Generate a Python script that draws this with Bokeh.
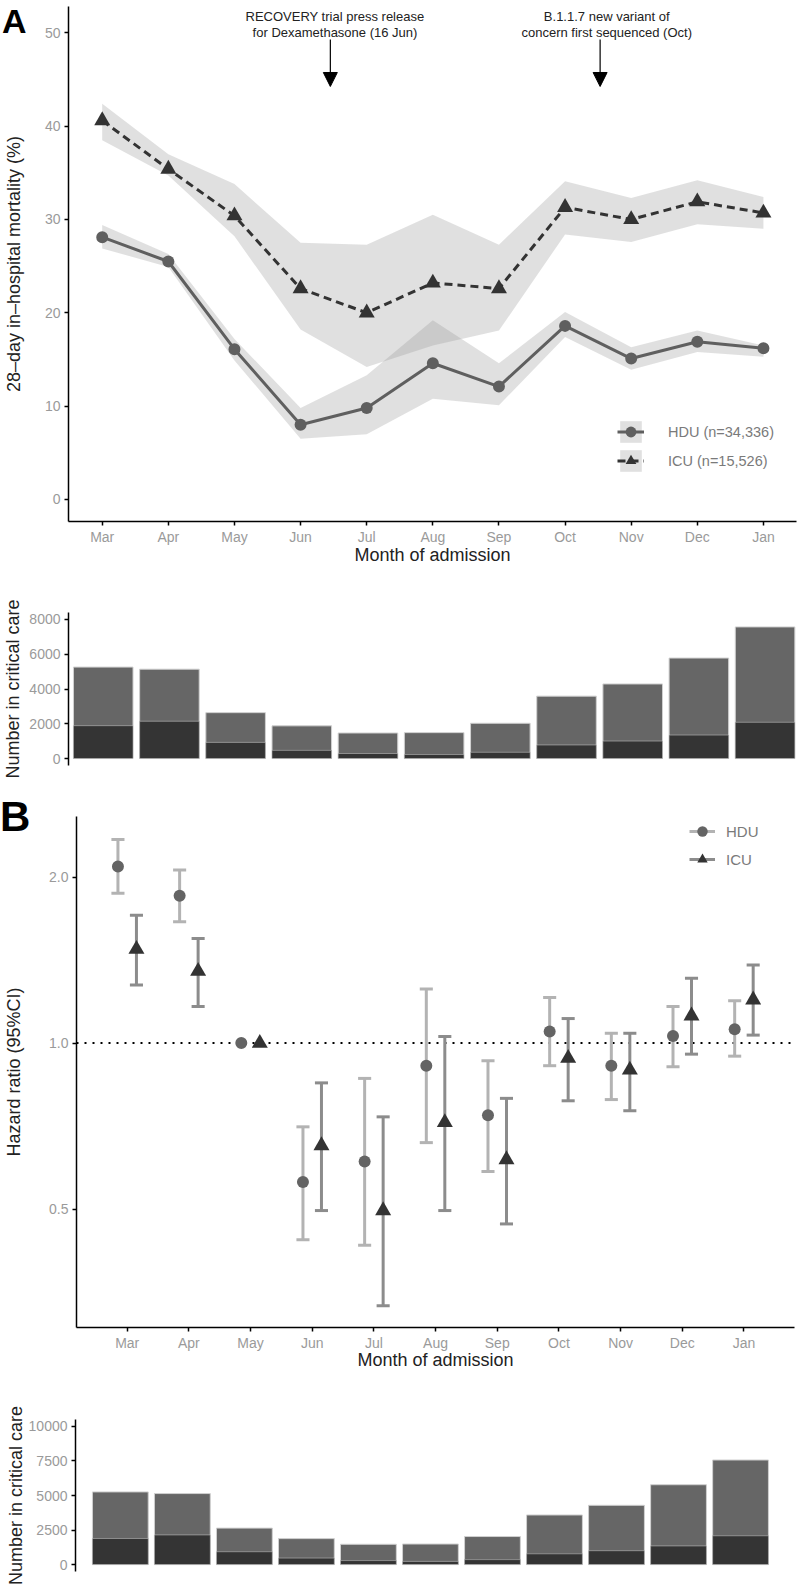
import numpy as np
from bokeh.plotting import figure
from bokeh.models import (ColumnDataSource, Range1d, FixedTicker, Legend, LegendItem,
                          Label, Arrow, NormalHead, Span, PrintfTickFormatter, Div)
from bokeh.layouts import column, row
from bokeh.embed import file_html
from bokeh.resources import INLINE

# ---------------- data ----------------
months = ["Mar", "Apr", "May", "Jun", "Jul", "Aug", "Sep", "Oct", "Nov", "Dec", "Jan"]

# Panel A: 28-day in-hospital mortality (%)
hdu_mort = [28.1, 25.5, 16.1, 8.0, 9.8, 14.6, 12.1, 18.6, 15.1, 16.9, 16.2]
hdu_mort_lo = [26.9, 24.9, 14.9, 6.5, 7.0, 10.8, 10.1, 17.4, 13.9, 15.8, 15.3]
hdu_mort_hi = [29.4, 26.3, 17.2, 9.8, 13.3, 19.2, 14.6, 20.1, 16.3, 18.1, 16.5]
icu_mort = [40.6, 35.4, 30.4, 22.6, 20.0, 23.2, 22.6, 31.3, 30.0, 31.9, 30.7]
icu_mort_lo = [38.5, 34.7, 28.2, 18.2, 14.2, 16.5, 18.1, 28.4, 27.6, 29.5, 29.0]
icu_mort_hi = [42.4, 37.0, 33.8, 27.5, 27.3, 30.5, 27.3, 34.1, 32.3, 34.2, 32.4]

# Number in critical care
total_cc = [5260, 5140, 2640, 1880, 1470, 1490, 2030, 3590, 4290, 5780, 7570]
icu_cc = [1890, 2145, 930, 470, 290, 230, 360, 780, 1005, 1350, 2085]

# Panel B: hazard ratios (May = reference)
hdu_hr = [2.09, 1.85, 1.0, 0.56, 0.61, 0.91, 0.74, 1.05, 0.91, 1.03, 1.06]
hdu_hr_lo = [1.87, 1.66, None, 0.44, 0.43, 0.66, 0.585, 0.91, 0.79, 0.906, 0.947]
hdu_hr_hi = [2.34, 2.06, None, 0.705, 0.863, 1.253, 0.929, 1.21, 1.042, 1.165, 1.193]
icu_hr = [1.48, 1.35, 1.0, 0.652, 0.497, 0.718, 0.615, 0.939, 0.894, 1.121, 1.198]
icu_hr_lo = [1.274, 1.165, None, 0.497, 0.334, 0.497, 0.470, 0.786, 0.754, 0.955, 1.034]
icu_hr_hi = [1.705, 1.547, None, 0.847, 0.735, 1.028, 0.794, 1.108, 1.042, 1.311, 1.386]

mort_ticks = [0, 10, 20, 30, 40, 50]
hr_ticks = [0.5, 1.0, 2.0]
bar1_ticks = [0, 2000, 4000, 6000, 8000]
bar2_ticks = [0, 2500, 5000, 7500, 10000]

FONT = "Liberation Sans"
TICK_COL = "#9a9a9a"
TITLE_COL = "#222222"

x = np.arange(1, len(months) + 1)
month_labels = {int(i): m for i, m in zip(x, months)}


def style(p):
    p.outline_line_color = None
    p.grid.visible = False
    p.background_fill_color = "white"
    p.border_fill_color = "white"
    for ax in p.axis:
        ax.axis_line_color = "black"
        ax.axis_line_width = 1.5
        ax.major_tick_line_color = "black"
        ax.major_tick_line_width = 1.5
        ax.major_tick_out = 4
        ax.major_tick_in = 0
        ax.minor_tick_line_color = None
        ax.major_label_text_font = FONT
        ax.major_label_text_font_size = "14px"
        ax.major_label_text_color = TICK_COL
        ax.major_label_standoff = 4
        ax.axis_label_text_font = FONT
        ax.axis_label_text_font_size = "18px"
        ax.axis_label_text_font_style = "normal"
        ax.axis_label_text_color = TITLE_COL


def panel_letter(txt, left, top, size):
    return Div(text=txt, width=40, height=44,
               styles={"position": "absolute", "left": "%dpx" % left, "top": "%dpx" % top,
                       "z-index": "10", "font-family": FONT, "font-size": size,
                       "font-weight": "bold", "line-height": "1", "color": "black",
                       "margin": "0", "padding": "0"})


# ---------------- Panel A ----------------
pA = figure(width=800, height=580, x_range=Range1d(0.49, 11.5), y_range=Range1d(-2.36, 52.82),
            output_backend="svg", toolbar_location=None,
            min_border_left=68, min_border_right=4, min_border_top=6, min_border_bottom=59,
            x_axis_label="Month of admission", y_axis_label="28–day in–hospital mortality (%)")
style(pA)
pA.xaxis.ticker = FixedTicker(ticks=list(x))
pA.xaxis.major_label_overrides = month_labels
pA.xaxis.major_label_standoff = 3
pA.xaxis.axis_label_standoff = -3
pA.yaxis.ticker = FixedTicker(ticks=mort_ticks)
pA.yaxis.axis_label_standoff = 18

srcA = ColumnDataSource(dict(x=x, hdu=hdu_mort, hlo=hdu_mort_lo, hhi=hdu_mort_hi,
                             icu=icu_mort, ilo=icu_mort_lo, ihi=icu_mort_hi))
rib_h = pA.varea(x="x", y1="hlo", y2="hhi", source=srcA, fill_color="#999999", fill_alpha=0.3)
rib_i = pA.varea(x="x", y1="ilo", y2="ihi", source=srcA, fill_color="#999999", fill_alpha=0.3)
ln_h = pA.line("x", "hdu", source=srcA, line_color="#5f5f5f", line_width=3)
ln_i = pA.line("x", "icu", source=srcA, line_color="#333333", line_width=3, line_dash="8 5")
pt_h = pA.scatter("x", "hdu", source=srcA, marker="circle", size=12,
                  fill_color="#5f5f5f", line_color=None)
pt_i = pA.scatter("x", "icu", source=srcA, marker="triangle", size=16,
                  fill_color="#333333", line_color=None)

legA = Legend(items=[LegendItem(label="HDU (n=34,336)", renderers=[rib_h, ln_h, pt_h]),
                     LegendItem(label="ICU (n=15,526)", renderers=[rib_i, ln_i, pt_i])],
              location=(549, 47), glyph_width=27, glyph_height=27, spacing=2, padding=0,
              margin=0, label_standoff=24, border_line_color=None, background_fill_alpha=0,
              label_text_font=FONT, label_text_font_size="14.5px", label_text_color="#7a7a7a")
pA.add_layout(legA)

# event annotations
for xa, xt, l1, l2 in [(4.45, 4.52, "RECOVERY trial press release", "for Dexamethasone (16 Jun)"),
                       (8.53, 8.63, "B.1.1.7 new variant of", "concern first sequenced (Oct)")]:
    for yy, tt in [(51.75, l1), (50.03, l2)]:
        pA.add_layout(Label(x=xt, y=yy, text=tt, text_align="center", text_baseline="alphabetic",
                            text_font=FONT, text_font_size="13px", text_color="#222222"))
    pA.add_layout(Arrow(x_start=xa, y_start=49.28, x_end=xa, y_end=44.25, line_width=1.2,
                        line_color="black",
                        end=NormalHead(size=14, fill_color="black", line_color="black")))


# ---------------- bar panels ----------------
def bar_panel(height, xr, yr, ticks, mbt, mbb, mbl, mbr, standoff):
    p = figure(width=800, height=height, x_range=xr, y_range=yr,
               output_backend="svg", toolbar_location=None,
               min_border_left=mbl, min_border_right=mbr, min_border_top=mbt,
               min_border_bottom=mbb, y_axis_label="Number in critical care")
    style(p)
    p.xaxis.visible = False
    p.yaxis.ticker = FixedTicker(ticks=ticks)
    p.yaxis.axis_label_standoff = standoff
    src = ColumnDataSource(dict(x=x, total=total_cc, icu=icu_cc))
    p.vbar(x="x", top="total", width=0.9, source=src, fill_color="#666666",
           line_color="#d0d0d0", line_width=1)
    p.vbar(x="x", top="icu", width=0.9, source=src, fill_color="#343434",
           line_color="#d0d0d0", line_width=1, line_alpha=0.5)
    return p


pB1 = bar_panel(208, Range1d(0.475, 11.49), Range1d(-400, 8400), bar1_ticks,
                32, 23, 68, 3, 3)

# ---------------- Panel B ----------------
pB = figure(width=800, height=602, x_range=Range1d(0.178, 11.82), y_range=Range1d(0.305, 2.576),
            y_axis_type="log", output_backend="svg", toolbar_location=None,
            min_border_left=76, min_border_right=6, min_border_top=28, min_border_bottom=63,
            x_axis_label="Month of admission", y_axis_label="Hazard ratio (95%CI)")
style(pB)
pB.xaxis.ticker = FixedTicker(ticks=list(x))
pB.xaxis.major_label_overrides = month_labels
pB.xaxis.major_label_standoff = 3
pB.xaxis.axis_label_standoff = -4
pB.yaxis.ticker = FixedTicker(ticks=hr_ticks)
pB.yaxis.formatter = PrintfTickFormatter(format="%.1f")
pB.yaxis.axis_label_standoff = 22

ref = Span(location=1.0, dimension="width", line_color="black", line_width=2, line_dash="2 6",
           level="underlay")
pB.add_layout(ref)

dodge = 0.15
cap = 0.106


def err_src(xs, lo, hi):
    keep = [i for i in range(len(xs)) if lo[i] is not None]
    xx = np.array([xs[i] for i in keep])
    return ColumnDataSource(dict(x=xx, lo=[lo[i] for i in keep], hi=[hi[i] for i in keep],
                                 x0=xx - cap, x1=xx + cap))


rend = {}
for name, off, est, lo, hi, ecol, pcol, mk, sz in [
        ("HDU", -dodge, hdu_hr, hdu_hr_lo, hdu_hr_hi, "#b3b3b3", "#646464", "circle", 12),
        ("ICU", dodge, icu_hr, icu_hr_lo, icu_hr_hi, "#8c8c8c", "#333333", "triangle", 16)]:
    xs = x + off
    es = err_src(xs, lo, hi)
    seg = pB.segment(x0="x", y0="lo", x1="x", y1="hi", source=es, line_color=ecol, line_width=3)
    pB.segment(x0="x0", y0="hi", x1="x1", y1="hi", source=es, line_color=ecol, line_width=3)
    pB.segment(x0="x0", y0="lo", x1="x1", y1="lo", source=es, line_color=ecol, line_width=3)
    rend[name] = (seg, pcol, mk, sz, xs, est)

pts = {}
for name in ["HDU", "ICU"]:
    seg, pcol, mk, sz, xs, est = rend[name]
    pts[name] = pB.scatter(x=xs, y=est, marker=mk, size=sz, fill_color=pcol, line_color=None)

legB = Legend(items=[LegendItem(label="HDU", renderers=[rend["HDU"][0], pts["HDU"]]),
                     LegendItem(label="ICU", renderers=[rend["ICU"][0], pts["ICU"]])],
              location=(613, 454), glyph_width=26, glyph_height=28, spacing=0, padding=0,
              margin=0, label_standoff=11, border_line_color=None, background_fill_alpha=0,
              label_text_font=FONT, label_text_font_size="15px", label_text_color="#7a7a7a")
pB.add_layout(legB)

pB2 = bar_panel(197, Range1d(0.277, 11.87), Range1d(-500, 10500), bar2_ticks,
                29, 16, 75, 6, 0)

letter_a = panel_letter("A", 2, 4, "34px")
letter_b = panel_letter("B", 0, 796, "42px")

layout = column(letter_a, letter_b, row(pA), row(pB1), row(pB), row(pB2))
open("out.html", "w").write(file_html(layout, INLINE))
